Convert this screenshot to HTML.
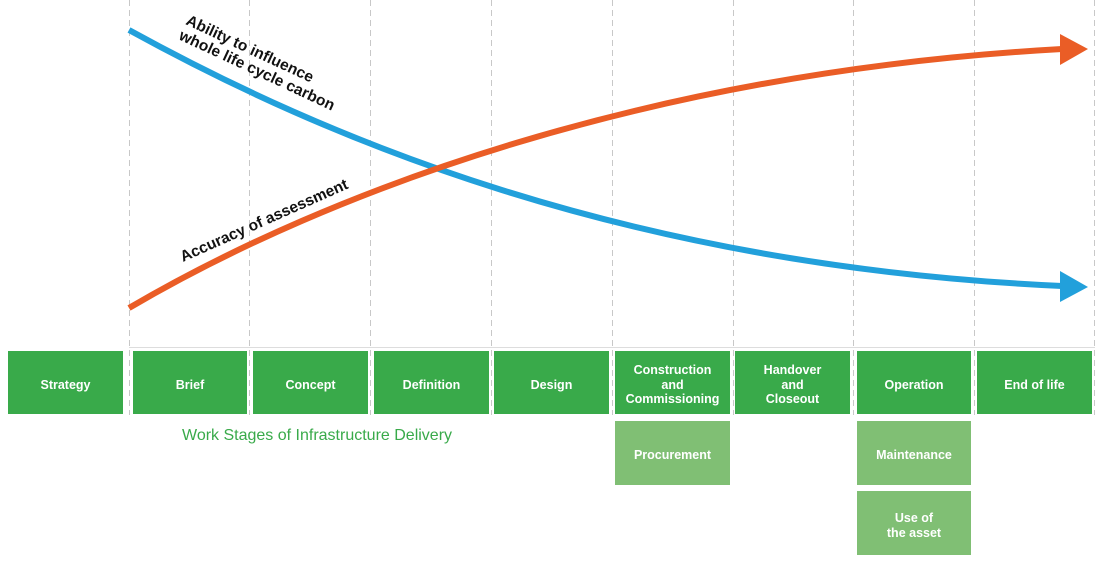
<!DOCTYPE html>
<html><head><style>
body{margin:0;background:#fff;width:1105px;height:565px;overflow:hidden;position:relative;font-family:"Liberation Sans",sans-serif}
.b{position:absolute;background:#39aa4a;color:#fff;font-weight:bold;font-size:12.5px;display:flex;align-items:center;justify-content:center;text-align:center;line-height:14.5px;box-sizing:border-box;padding-top:5px}
.l{background:#80bf74}
</style></head><body>
<svg width="1105" height="565" style="position:absolute;left:0;top:0">
<g stroke="#c8c8c8" stroke-width="1" stroke-dasharray="6,4">
<line x1="129.5" y1="0" x2="129.5" y2="415"/><line x1="249.5" y1="0" x2="249.5" y2="415"/>
<line x1="370.5" y1="0" x2="370.5" y2="415"/><line x1="491.5" y1="0" x2="491.5" y2="415"/>
<line x1="612.5" y1="0" x2="612.5" y2="415"/><line x1="733.5" y1="0" x2="733.5" y2="415"/>
<line x1="853.5" y1="0" x2="853.5" y2="415"/><line x1="974.5" y1="0" x2="974.5" y2="415"/>
<line x1="1094.5" y1="0" x2="1094.5" y2="415"/>
</g>
<line x1="129" y1="347.5" x2="1095" y2="347.5" stroke="#ddd"/>
<path d="M129,30 C320,135 620,266 1062,286" fill="none" stroke="#22a0db" stroke-width="6"/>
<polygon points="1060,271 1088,287 1060,302" fill="#22a0db"/>
<path d="M129,308 C330,190 650,72 1062,49" fill="none" stroke="#ea5d26" stroke-width="6"/>
<polygon points="1060,34 1088,49 1060,65" fill="#ea5d26"/>
<g font-family="Liberation Sans" font-size="15.5" font-weight="bold" fill="#111">
<text transform="translate(185,24) rotate(25)">Ability to influence</text>
<text transform="translate(178,39) rotate(25)">whole life cycle carbon</text>
<text transform="translate(183,262) rotate(-24)">Accuracy of assessment</text>
</g>
</svg>
<div class="b" style="left:8px;top:351px;width:115px;height:63px">Strategy</div>
<div class="b" style="left:133px;top:351px;width:114px;height:63px">Brief</div>
<div class="b" style="left:253px;top:351px;width:115px;height:63px">Concept</div>
<div class="b" style="left:374px;top:351px;width:115px;height:63px">Definition</div>
<div class="b" style="left:494px;top:351px;width:115px;height:63px">Design</div>
<div class="b" style="left:615px;top:351px;width:115px;height:63px">Construction<br>and<br>Commissioning</div>
<div class="b" style="left:735px;top:351px;width:115px;height:63px">Handover<br>and<br>Closeout</div>
<div class="b" style="left:857px;top:351px;width:114px;height:63px">Operation</div>
<div class="b" style="left:977px;top:351px;width:115px;height:63px">End of life</div>
<div class="b l" style="left:615px;top:421px;width:115px;height:64px">Procurement</div>
<div class="b l" style="left:857px;top:421px;width:114px;height:64px">Maintenance</div>
<div class="b l" style="left:857px;top:491px;width:114px;height:64px">Use of<br>the asset</div>
<div style="position:absolute;left:182px;top:427px;color:#39aa4a;font-size:16px">Work Stages of Infrastructure Delivery</div>
</body></html>
